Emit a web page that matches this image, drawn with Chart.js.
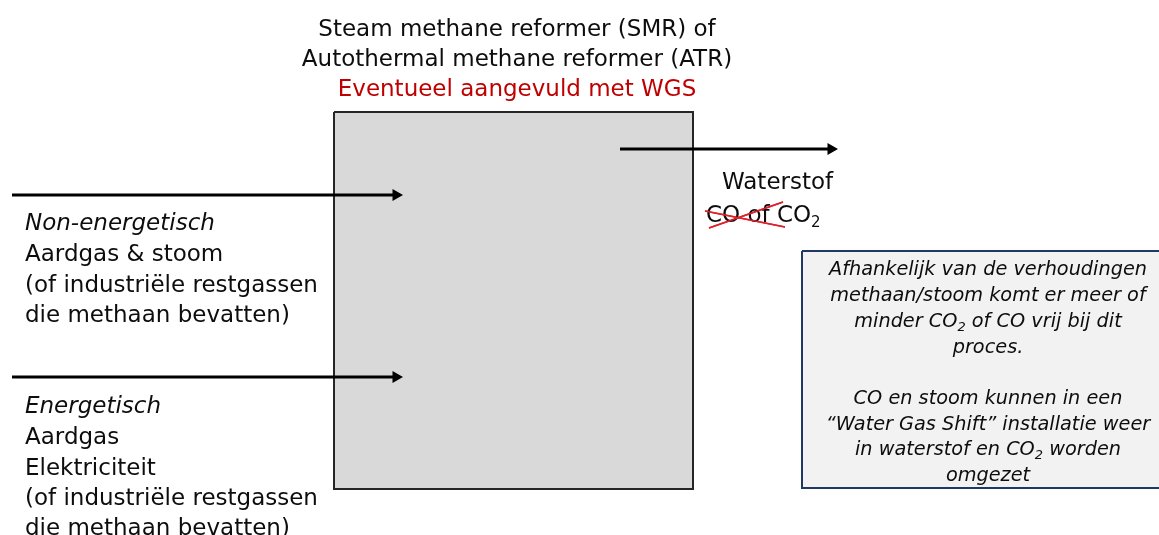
<!DOCTYPE html>
<html>
<head>
<meta charset="utf-8">
<script src="https://cdn.jsdelivr.net/npm/chart.js@4/dist/chart.umd.min.js"></script>
<style>
  html, body { margin: 0; padding: 0; background: #fff; overflow: hidden; }
  #view { width: 1159px; height: 535px; position: relative; overflow: hidden; }
  /* Chart.js keeps room for the arrow heads round the plot area; the canvas is
     shifted by that much so the plot area fills the visible window */
  #wrap { position: absolute; left: -7px; top: -7px; width: 1173px; height: 549px; }
</style>
</head>
<body>
<div id="view"><div id="wrap"><canvas id="diagram"></canvas></div></div>
<script>
'use strict';

// shapes, in picture units (x to the right, y downwards)
const reformerBox = [[334, 112], [693, 112], [693, 489], [334, 489], [334, 112]];
const noteBox = [[802, 251], [1175, 251], [1175, 488], [802, 488], [802, 251]];
const arrowNonEnergetic = [[12, 195], [396, 195]];
const arrowEnergetic = [[12, 377], [396, 377]];
const arrowHydrogen = [[620, 149], [831, 149]];
const crossLineA = [[705, 211], [785, 227]];
const crossLineB = [[709, 228], [783, 202]];

// texts: [x, y, segments]; a segment is [text, style] with style '' | 'i' | 'sub' | 'isub'
const titleLines = [
    [517, 28, [['Steam methane reformer (SMR) of', '']]],
    [517, 58, [['Autothermal methane reformer (ATR)', '']]],
    [517, 88, [['Eventueel aangevuld met WGS', '']], 'red']
];
const inputLines = [
    [25, 222, [['Non-energetisch', 'i']]],
    [25, 253, [['Aardgas & stoom', '']]],
    [25, 284, [['(of industriële restgassen', '']]],
    [25, 314, [['die methaan bevatten)', '']]],
    [25, 405, [['Energetisch', 'i']]],
    [25, 436, [['Aardgas', '']]],
    [25, 467, [['Elektriciteit', '']]],
    [25, 497, [['(of industriële restgassen', '']]],
    [25, 527, [['die methaan bevatten)', '']]]
];
const outputLines = [
    [722, 181, [['Waterstof', '']]],
    [706, 214, [['CO of CO', ''], ['2', 'sub']]]
];
const noteLines = [
    [988, 268, [['Afhankelijk van de verhoudingen', 'i']]],
    [988, 294, [['methaan/stoom komt er meer of', 'i']]],
    [988, 320, [['minder CO', 'i'], ['2', 'isub'], [' of CO vrij bij dit', 'i']]],
    [988, 346, [['proces.', 'i']]],
    [988, 397, [['CO en stoom kunnen in een', 'i']]],
    [988, 423, [['\u201CWater Gas Shift\u201D installatie weer', 'i']]],
    [988, 448, [['in waterstof en CO', 'i'], ['2', 'isub'], [' worden', 'i']]],
    [988, 474, [['omgezet', 'i']]]
];

const COLORS = {
    text: '#0d0d0d',
    red: '#c00000',
    cross: '#e0202a',
    boxFill: '#d9d9d9',
    boxLine: '#262626',
    noteFill: '#f2f2f2',
    noteLine: '#1f3864',
    arrow: '#000000'
};
const FONT = '"DejaVu Sans", sans-serif';
const ARROW_HEAD = 7;

function toPoints(list) {
    return list.map(p => ({x: p[0], y: p[1]}));
}

function outline(list, color, width, order) {
    return {
        data: toPoints(list),
        borderColor: color,
        borderWidth: width,
        pointRadius: 0,
        fill: false,
        order: order
    };
}

function filled(list, color, order) {
    // top edge filled down to the bottom edge
    return {
        data: toPoints(list.slice(0, 2)),
        borderWidth: 0,
        borderColor: 'rgba(0,0,0,0)',
        backgroundColor: color,
        pointRadius: 0,
        fill: {value: list[2][1]},
        order: order
    };
}

function arrow(list) {
    return {
        data: toPoints(list),
        borderColor: COLORS.arrow,
        borderWidth: 3,
        pointStyle: 'triangle',
        rotation: 90,
        pointRadius: [0, ARROW_HEAD],
        pointBorderWidth: 0,
        pointBackgroundColor: COLORS.arrow,
        fill: false,
        order: 1
    };
}

function drawLines(ctx, chart, lines, size, align) {
    let xs = chart.scales.x, ys = chart.scales.y;
    lines.forEach(([x, y, segs, tone]) => {
        let px = xs.getPixelForValue(x), py = ys.getPixelForValue(y) + 2;
        let fontFor = st => {
            let it = st.indexOf('i') === 0 ? 'italic ' : '';
            let sz = st.indexOf('sub') >= 0 ? Math.round(size * 0.65) : size;
            return `${it}${sz}px ${FONT}`;
        };
        let total = 0;
        segs.forEach(([t, st]) => {
            ctx.font = fontFor(st);
            total += ctx.measureText(t).width;
        });
        let cx = align === 'center' ? px - total / 2 : px;
        ctx.fillStyle = tone === 'red' ? COLORS.red : COLORS.text;
        ctx.textAlign = 'left';
        ctx.textBaseline = 'middle';
        segs.forEach(([t, st]) => {
            ctx.font = fontFor(st);
            let dy = st.indexOf('sub') >= 0 ? size * 0.3 : 0;
            ctx.fillText(t, cx, py + dy);
            cx += ctx.measureText(t).width;
        });
    });
}

const textPlugin = {
    id: 'diagramText',
    afterDatasetsDraw(chart) {
        let ctx = chart.ctx;
        ctx.save();
        drawLines(ctx, chart, titleLines, 23, 'center');
        drawLines(ctx, chart, inputLines, 23, 'left');
        drawLines(ctx, chart, outputLines, 23, 'left');
        drawLines(ctx, chart, noteLines, 19.3, 'center');
        ctx.restore();
    }
};

// cross over "CO of" has to sit on top of the text
const crossPlugin = {
    id: 'crossOnTop',
    afterDraw(chart) {
        let n = chart.data.datasets.length;
        [n - 1, n - 2].forEach(i => chart.getDatasetMeta(i).dataset.draw(chart.ctx, chart.chartArea));
    }
};

new Chart(document.getElementById('diagram').getContext('2d'), {
    type: 'line',
    data: {
        datasets: [
            filled(reformerBox, COLORS.boxFill, 5),
            outline(reformerBox, COLORS.boxLine, 2, 4),
            filled(noteBox, COLORS.noteFill, 5),
            outline(noteBox, COLORS.noteLine, 2, 4),
            arrow(arrowNonEnergetic),
            arrow(arrowEnergetic),
            arrow(arrowHydrogen),
            outline(crossLineA, COLORS.cross, 1.5, 0),
            outline(crossLineB, COLORS.cross, 1.5, 0)
        ]
    },
    options: {
        responsive: true,
        maintainAspectRatio: false,
        animation: false,
        events: [],
        clip: false,
        layout: {padding: 0},
        scales: {
            x: {type: 'linear', min: 0, max: 1159, display: false},
            y: {type: 'linear', min: 0, max: 535, reverse: true, display: false}
        },
        plugins: {
            legend: {display: false},
            tooltip: {enabled: false}
        }
    },
    plugins: [textPlugin, crossPlugin]
});
</script>
</body>
</html>
